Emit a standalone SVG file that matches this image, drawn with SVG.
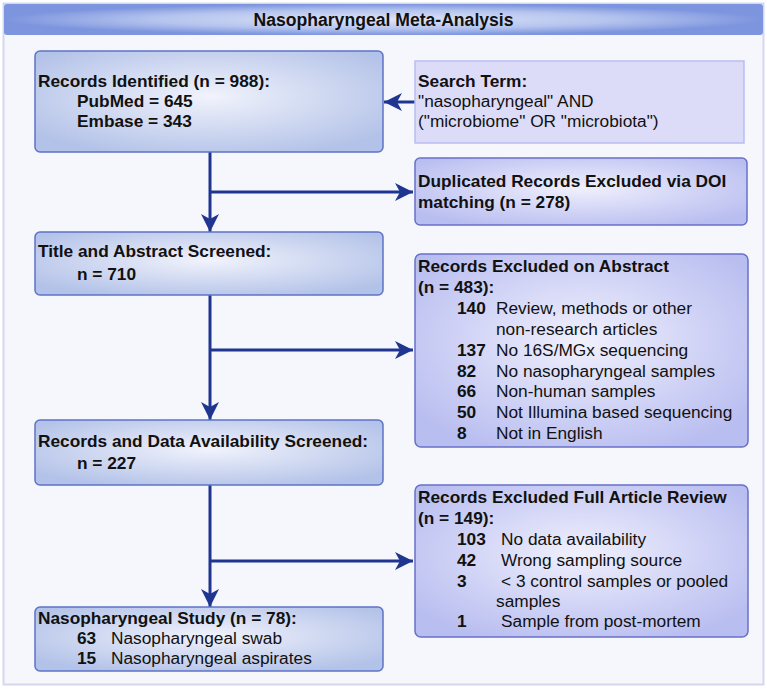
<svg xmlns="http://www.w3.org/2000/svg" width="767" height="689" viewBox="0 0 767 689">
<defs>
<radialGradient id="gLeft" cx="0.5" cy="0.45" r="0.62">
<stop offset="0" stop-color="#f1f3fc"/>
<stop offset="1" stop-color="#b3c2e8"/>
</radialGradient>
<radialGradient id="gRight" cx="0.5" cy="0.45" r="0.62">
<stop offset="0" stop-color="#f0f0fd"/>
<stop offset="1" stop-color="#b9bef0"/>
</radialGradient>
<radialGradient id="gHead" cx="0.5" cy="0.5" r="0.5">
<stop offset="0" stop-color="#dfe5f8"/>
<stop offset="0.6" stop-color="#b5c4ee"/>
<stop offset="1" stop-color="#7d95de"/>
</radialGradient>
<marker id="arr" markerUnits="userSpaceOnUse" viewBox="0 0 18 18" refX="18" refY="9" markerWidth="18" markerHeight="18" orient="auto">
<path d="M0,0 L18,9 L0,18 L5,9 Z" fill="#1f3590"/>
</marker>
<style>
.t{font-family:"Liberation Sans",Arial,sans-serif;font-size:17.3px;fill:#111}
.b{font-weight:bold}
.h{font-size:17.6px}
.bl{fill:url(#gLeft);stroke:#5d73c6;stroke-width:1.5}
.br{fill:url(#gRight);stroke:#6870c8;stroke-width:1.5}
.c{fill:none;stroke:#1f3590;stroke-width:3}
</style>
</defs>
<rect x="3.5" y="3.5" width="760" height="681" fill="#f5f7fd" stroke="#d4d7ef" stroke-width="2"/>
<g id="header">
<rect x="4" y="4" width="759" height="31" rx="3" fill="url(#gHead)"/>
<text class="t b h" x="383.5" y="25.5" text-anchor="middle">Nasopharyngeal Meta-Analysis</text>
</g>
<g id="connectors">
<line class="c" x1="210" y1="152" x2="210" y2="232" marker-end="url(#arr)"/>
<line class="c" x1="210" y1="192" x2="413" y2="192" marker-end="url(#arr)"/>
<line class="c" x1="415" y1="102" x2="384" y2="102" marker-end="url(#arr)"/>
<line class="c" x1="210" y1="295" x2="210" y2="420" marker-end="url(#arr)"/>
<line class="c" x1="210" y1="350" x2="413" y2="350" marker-end="url(#arr)"/>
<line class="c" x1="210" y1="485" x2="210" y2="607" marker-end="url(#arr)"/>
<line class="c" x1="210" y1="561" x2="413" y2="561" marker-end="url(#arr)"/>
</g>
<g id="identified">
<rect class="bl" x="35" y="51" width="348" height="101" rx="5"/>
<text class="t b" x="38" y="87">Records Identified (n = 988):</text>
<text class="t b" x="77" y="107">PubMed = 645</text>
<text class="t b" x="77" y="127">Embase = 343</text>
</g>
<g id="search">
<rect x="415" y="61" width="329" height="82" fill="#dcdcf8" stroke="#b9bdf0" stroke-width="1.5"/>
<text class="t b" x="418" y="87">Search Term:</text>
<text class="t" x="418" y="107">"nasopharyngeal" AND</text>
<text class="t" x="418" y="127">("microbiome" OR "microbiota")</text>
</g>
<g id="duplicated">
<rect class="br" x="415" y="158" width="332" height="67" rx="5"/>
<text class="t b" x="418" y="187">Duplicated Records Excluded via DOI</text>
<text class="t b" x="418" y="208">matching (n = 278)</text>
</g>
<g id="title-abstract">
<rect class="bl" x="35" y="232" width="348" height="63" rx="5"/>
<text class="t b" x="38" y="257">Title and Abstract Screened:</text>
<text class="t b" x="77" y="280">n = 710</text>
</g>
<g id="excluded-abstract">
<rect class="br" x="415" y="254" width="333" height="193" rx="6"/>
<text class="t b" x="418" y="272">Records Excluded on Abstract</text>
<text class="t b" x="418" y="293">(n = 483):</text>
<text class="t b" x="457" y="314">140</text><text class="t" x="496" y="314">Review, methods or other</text>
<text class="t" x="496" y="335">non-research articles</text>
<text class="t b" x="457" y="356">137</text><text class="t" x="496" y="356">No 16S/MGx sequencing</text>
<text class="t b" x="457" y="377">82</text><text class="t" x="496" y="377">No nasopharyngeal samples</text>
<text class="t b" x="457" y="397">66</text><text class="t" x="496" y="397">Non-human samples</text>
<text class="t b" x="457" y="418">50</text><text class="t" x="496" y="418">Not Illumina based sequencing</text>
<text class="t b" x="457" y="439">8</text><text class="t" x="496" y="439">Not in English</text>
</g>
<g id="data-availability">
<rect class="bl" x="35" y="420" width="348" height="65" rx="5"/>
<text class="t b" x="38" y="447">Records and Data Availability Screened:</text>
<text class="t b" x="77" y="469">n = 227</text>
</g>
<g id="excluded-full">
<rect class="br" x="415" y="485" width="333" height="152" rx="6"/>
<text class="t b" x="418" y="503">Records Excluded Full Article Review</text>
<text class="t b" x="418" y="524">(n = 149):</text>
<text class="t b" x="457" y="545">103</text><text class="t" x="501" y="545">No data availability</text>
<text class="t b" x="457" y="566">42</text><text class="t" x="501" y="566">Wrong sampling source</text>
<text class="t b" x="457" y="587">3</text><text class="t" x="501" y="587">&lt; 3 control samples or pooled</text>
<text class="t" x="496" y="607">samples</text>
<text class="t b" x="457" y="627">1</text><text class="t" x="501" y="627">Sample from post-mortem</text>
</g>
<g id="study">
<rect class="bl" x="35" y="607" width="348" height="64" rx="5"/>
<text class="t b" x="38" y="624">Nasopharyngeal Study (n = 78):</text>
<text class="t b" x="77" y="644">63</text><text class="t" x="111" y="644">Nasopharyngeal swab</text>
<text class="t b" x="77" y="664">15</text><text class="t" x="111" y="664">Nasopharyngeal aspirates</text>
</g>
</svg>
